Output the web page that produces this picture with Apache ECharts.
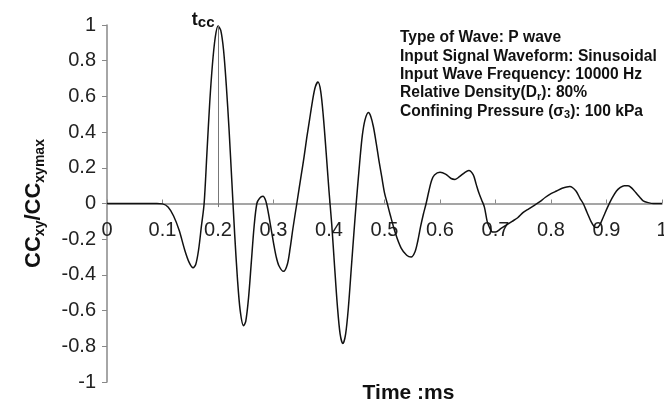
<!DOCTYPE html>
<html>
<head>
<meta charset="utf-8">
<script src="https://cdn.jsdelivr.net/npm/echarts@6/dist/echarts.min.js"></script>
<style>
  html, body { margin: 0; padding: 0; background: #fff; }
  #main { width: 664px; height: 405px; }
</style>
</head>
<body>
<div id="main"></div>
<script>
// time (ms) and normalised cross-correlation
var timeMs = [
  0, 0.05, 0.09, 0.1, 0.11, 0.12, 0.13, 0.14, 0.148, 0.155, 0.16, 0.165, 0.17, 0.175,
  0.18, 0.185, 0.19, 0.195, 0.2, 0.205, 0.21, 0.215, 0.22, 0.225, 0.23, 0.235, 0.24, 0.246,
  0.25, 0.255, 0.26, 0.265, 0.27, 0.275, 0.281, 0.286, 0.29, 0.295, 0.3, 0.305, 0.31, 0.318,
  0.325, 0.33, 0.335, 0.342, 0.35, 0.355, 0.36, 0.365, 0.37, 0.375, 0.38, 0.385, 0.39, 0.395,
  0.4, 0.405, 0.41, 0.415, 0.42, 0.425, 0.43, 0.435, 0.44, 0.445, 0.449, 0.455, 0.46, 0.465,
  0.471, 0.475, 0.48, 0.485, 0.49, 0.495, 0.5, 0.505, 0.51, 0.52, 0.53, 0.54, 0.548, 0.555,
  0.56, 0.565, 0.57, 0.575, 0.58, 0.585, 0.59, 0.6, 0.61, 0.62, 0.627, 0.635, 0.645, 0.652,
  0.66, 0.665, 0.67, 0.675, 0.68, 0.685, 0.69, 0.695, 0.7, 0.71, 0.72, 0.73, 0.74, 0.75,
  0.76, 0.77, 0.78, 0.79, 0.8, 0.81, 0.82, 0.834, 0.845, 0.852, 0.858, 0.865, 0.872, 0.878,
  0.883, 0.888, 0.895, 0.902, 0.91, 0.918, 0.925, 0.932, 0.939, 0.946, 0.953, 0.96, 0.966,
  0.975, 0.985, 1.0
];
var ccRatio = [
  0, 0, 0, -0.002, -0.02, -0.07, -0.15, -0.26, -0.33, -0.36, -0.34, -0.26, -0.13, 0,
  0.28, 0.56, 0.78, 0.93, 0.995, 0.97, 0.86, 0.66, 0.41, 0.12, -0.17, -0.42, -0.6, -0.685,
  -0.66, -0.53, -0.33, -0.13, 0, 0.03, 0.04, 0.015, -0.04, -0.13, -0.22, -0.3, -0.35, -0.38,
  -0.34, -0.25, -0.14, 0, 0.16, 0.26, 0.37, 0.47, 0.57, 0.65, 0.68, 0.63, 0.48, 0.28,
  0.07, -0.12, -0.35, -0.57, -0.73, -0.785, -0.73, -0.58, -0.37, -0.16, 0, 0.22, 0.38, 0.47,
  0.51, 0.49, 0.43, 0.34, 0.24, 0.15, 0.06, 0, -0.06, -0.17, -0.25, -0.29, -0.3, -0.27,
  -0.21, -0.13, -0.06, 0, 0.07, 0.13, 0.16, 0.175, 0.165, 0.14, 0.135, 0.15, 0.175, 0.185,
  0.16, 0.11, 0.06, 0.02, -0.02, -0.1, -0.14, -0.16, -0.16, -0.14, -0.12, -0.1, -0.08, -0.05,
  -0.03, -0.01, 0.01, 0.035, 0.055, 0.07, 0.085, 0.095, 0.07, 0.03, 0, -0.05, -0.1, -0.13,
  -0.135, -0.12, -0.07, -0.02, 0.03, 0.07, 0.09, 0.1, 0.1, 0.085, 0.06, 0.035, 0.015,
  0.005, 0, 0
];
var tccTime = 0.2;
var tccRange = [-0.02, 1];
var infoLines = [
  'Type of Wave: P wave',
  'Input Signal Waveform: Sinusoidal',
  'Input Wave Frequency: 10000 Hz',
  'Relative Density(D{s|r}): 80%',
  'Confining Pressure (σ{s|3}): 100 kPa'
];

var font = '"Liberation Sans", Arial, sans-serif';
var points = timeMs.map(function (t, i) { return [t, ccRatio[i]]; });

var gridTop = 25, gridBottom = 23, chartH = 405;
// x axis sits on the zero line, halfway up the grid
var xShift = -(chartH - gridTop - gridBottom) / 2;

var chart = echarts.init(document.getElementById('main'));
chart.setOption({
  animation: false,
  grid: { left: 107, right: 2, top: gridTop, bottom: gridBottom, containLabel: false, outerBoundsMode: 'none' },
  xAxis: {
    type: 'value',
    min: 0, max: 1, interval: 0.1,
    offset: xShift,
    name: 'Time :ms',
    nameLocation: 'middle',
    nameGap: 179,
    nameTextStyle: { fontFamily: font, fontWeight: 'bold', fontSize: 21, color: '#111', padding: [0, 0, 0, 48] },
    axisLine: { onZero: false, lineStyle: { color: '#888', width: 1.5 } },
    axisTick: { inside: true, length: 4, lineStyle: { color: '#888' } },
    axisLabel: { fontFamily: font, fontSize: 20, color: '#222', margin: 17, hideOverlap: false },
    splitLine: { show: false }
  },
  yAxis: {
    type: 'value',
    min: -1, max: 1, interval: 0.2,
    name: '{b|CC}{s|xy}{b|/CC}{s|xymax}',
    nameLocation: 'middle',
    nameRotate: 90,
    nameGap: 60,
    nameTextStyle: {
      rich: {
        b: { fontFamily: font, fontWeight: 'bold', fontSize: 22, lineHeight: 26, color: '#111' },
        s: { fontFamily: font, fontWeight: 'bold', fontSize: 14, lineHeight: 14, verticalAlign: 'bottom', color: '#111' }
      }
    },
    axisLine: { show: true, lineStyle: { color: '#888', width: 1.5 } },
    axisTick: { show: true, length: 5, lineStyle: { color: '#888' } },
    axisLabel: { fontFamily: font, fontSize: 20, color: '#222', margin: 11, showMinLabel: true, showMaxLabel: true, hideOverlap: false },
    splitLine: { show: false }
  },
  graphic: [{
    type: 'text',
    left: 400,
    top: 29,
    style: {
      text: infoLines.join('\n'),
      fontFamily: font,
      fontWeight: 'bold',
      fontSize: 15.6,
      lineHeight: 18.3,
      fill: '#111',
      rich: {
        s: { fontFamily: font, fontWeight: 'bold', fontSize: 11, lineHeight: 11, verticalAlign: 'bottom', fill: '#111' }
      }
    }
  }],
  series: [{
    type: 'line',
    data: points,
    smooth: 0.3,
    showSymbol: false,
    lineStyle: { color: '#111', width: 1.5 },
    markLine: {
      silent: true,
      symbol: 'none',
      label: { show: false },
      lineStyle: { color: '#777', width: 1, type: 'solid' },
      data: [[{ coord: [tccTime, tccRange[0]] }, { coord: [tccTime, tccRange[1]] }]]
    },
    markPoint: {
      silent: true,
      symbol: 'circle',
      symbolSize: 1,
      itemStyle: { color: 'rgba(0,0,0,0)' },
      label: {
        show: true,
        position: 'left',
        distance: 3,
        offset: [0, -5],
        formatter: '{t|t}{s|cc}',
        rich: {
          t: { fontFamily: font, fontWeight: 'bold', fontSize: 18, lineHeight: 20, color: '#111' },
          s: { fontFamily: font, fontWeight: 'bold', fontSize: 15, lineHeight: 15, verticalAlign: 'bottom', color: '#111' }
        }
      },
      data: [{ coord: [tccTime, tccRange[1]] }]
    }
  }]
});
</script>
</body>
</html>
